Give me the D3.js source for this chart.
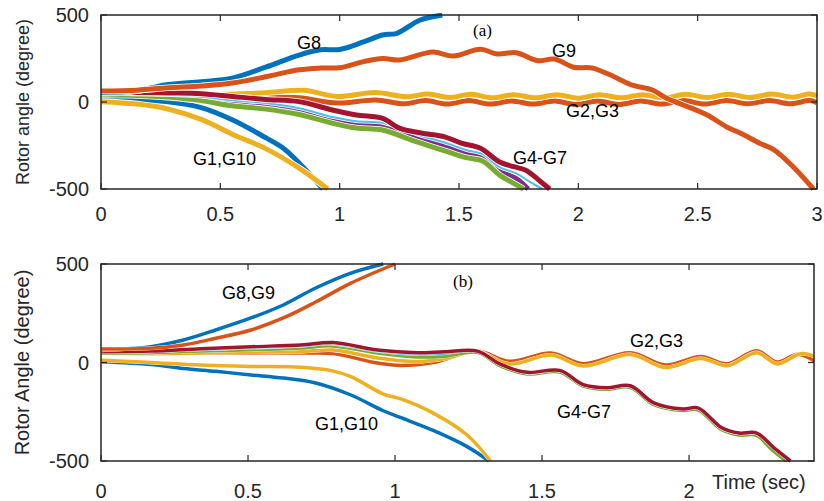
<!DOCTYPE html>
<html>
<head>
<meta charset="utf-8">
<script src="https://cdn.jsdelivr.net/npm/d3@7"></script>
<style>
  body { margin: 0; background: #fff; }
  text { font-family: "Liberation Sans", Arial, sans-serif; fill: #000; }
</style>
</head>
<body>
<div id="chart"></div>
<script>
// generator colours (MATLAB default order G1..G10)
var genColors = ["#0072BD", "#D95319", "#EDB120", "#7E2F8E", "#77AC30",
                 "#4DBEEE", "#A2142F", "#0072BD", "#D95319", "#EDB120"];
var genNames = ["G1", "G2", "G3", "G4", "G5", "G6", "G7", "G8", "G9", "G10"];

var yTicks = [-500, 0, 500];
var xTicksA = [0, 0.5, 1, 1.5, 2, 2.5, 3];
var xTicksB = [0, 0.5, 1, 1.5, 2];

// ---- panel (a): [time (s), rotor angle (deg)]
var a_G1 = [[0,12],[0.15,10],[0.28,2],[0.42,-32],[0.55,-102],[0.69,-205],[0.76,-262],[0.83,-350],[0.93,-500]];
var a_G2 = [[0,60],[0.15,56],[0.28,50],[0.42,42],[0.55,36],[0.69,30],[0.83,24],[0.99,-6],[1.15,12],[1.27,-10],
            [1.36,8],[1.45,-12],[1.54,8],[1.63,-12],[1.72,6],[1.81,-12],[1.90,6],[1.99,-14],[2.08,6],[2.17,-14],
            [2.26,6],[2.35,-12],[2.44,8],[2.53,-12],[2.62,8],[2.71,-10],[2.80,8],[2.89,-10],[2.97,8],[3.0,-5]];
var a_G3 = [[0,50],[0.15,50],[0.28,45],[0.42,40],[0.55,46],[0.69,53],[0.85,67],[0.99,32],[1.15,55],[1.28,30],
            [1.37,46],[1.46,26],[1.55,44],[1.64,24],[1.73,42],[1.82,24],[1.91,42],[2.00,22],[2.09,42],[2.18,24],
            [2.27,42],[2.36,24],[2.45,44],[2.54,26],[2.63,44],[2.72,26],[2.81,46],[2.90,28],[2.97,46],[3.0,36]];
var a_G4 = [[0,46],[0.15,45],[0.28,38],[0.42,20],[0.55,-5],[0.69,-22],[0.83,-50],[0.97,-100],[1.07,-125],[1.18,-136],
            [1.32,-205],[1.46,-262],[1.53,-295],[1.60,-316],[1.67,-395],[1.74,-440],[1.79,-500]];
var a_G5 = [[0,40],[0.15,38],[0.28,28],[0.42,8],[0.55,-22],[0.69,-41],[0.83,-72],[0.97,-122],[1.07,-150],[1.18,-161],
            [1.32,-228],[1.46,-290],[1.53,-320],[1.60,-340],[1.67,-420],[1.72,-460],[1.77,-500]];
var a_G6 = [[0,44],[0.15,44],[0.28,40],[0.42,30],[0.55,10],[0.69,-6],[0.83,-36],[0.97,-86],[1.07,-110],[1.18,-120],
            [1.32,-185],[1.46,-242],[1.53,-276],[1.60,-300],[1.67,-375],[1.74,-410],[1.80,-462],[1.85,-500]];
var a_G7 = [[0,52],[0.15,55],[0.28,52],[0.42,48],[0.55,32],[0.69,15],[0.83,2],[0.97,-46],[1.07,-75],[1.18,-94],
            [1.25,-150],[1.34,-178],[1.44,-200],[1.51,-237],[1.59,-266],[1.67,-345],[1.73,-372],[1.78,-392],[1.84,-455],[1.88,-500]];
var a_G8 = [[0,55],[0.15,65],[0.28,100],[0.42,117],[0.55,137],[0.69,200],[0.83,270],[0.92,300],[1.0,302],[1.1,345],
            [1.18,385],[1.24,395],[1.335,470],[1.43,500]];
var a_G9 = [[0,63],[0.15,68],[0.28,82],[0.42,92],[0.55,109],[0.69,145],[0.83,185],[0.92,195],[1.0,197],[1.1,232],
            [1.18,250],[1.25,241],[1.39,287],[1.475,264],[1.59,303],[1.66,276],[1.74,283],[1.83,237],[1.90,247],[1.98,200],
            [2.06,195],[2.15,145],[2.23,95],[2.31,69],[2.37,21],[2.46,-28],[2.54,-75],[2.62,-142],[2.68,-180],[2.76,-237],
            [2.82,-275],[2.90,-372],[2.985,-500]];
var a_G10 = [[0,2],[0.15,-12],[0.28,-40],[0.42,-100],[0.55,-185],[0.69,-268],[0.83,-380],[0.95,-500]];

// ---- panel (b)
var b_G1 = [[0,4],[0.17,-10],[0.28,-30],[0.39,-45],[0.51,-63],[0.62,-79],[0.73,-104],[0.85,-165],[0.96,-245],
            [1.02,-280],[1.13,-345],[1.245,-427],[1.32,-500]];
var b_G2 = [[0,62],[0.17,52],[0.34,47],[0.51,48],[0.68,48],[0.79,45],[0.94,-3],[1.02,-15],[1.13,0],[1.28,58],
            [1.39,6],[1.53,48],[1.64,-6],[1.80,50],[1.92,-13],[2.04,30],[2.13,-6],[2.23,60],[2.30,2],[2.37,42],[2.43,5]];
var b_G3 = [[0,48],[0.17,45],[0.34,48],[0.51,52],[0.68,55],[0.79,63],[0.94,23],[1.075,5],[1.17,20],[1.28,55],
            [1.39,-8],[1.53,38],[1.64,-18],[1.80,40],[1.92,-25],[2.04,20],[2.13,-16],[2.23,50],[2.30,-7],[2.38,45],[2.43,30]];
var b_G4 = [[0,50],[0.17,52],[0.34,60],[0.51,68],[0.68,78],[0.79,88],[0.94,52],[1.075,33],[1.17,38],[1.28,55],
            [1.36,-16],[1.45,-56],[1.56,-46],[1.64,-118],[1.72,-134],[1.80,-124],[1.88,-212],[1.98,-242],[2.03,-238],
            [2.11,-338],[2.17,-365],[2.23,-367],[2.29,-440],[2.335,-500]];
var b_G5 = [[0,48],[0.17,50],[0.34,58],[0.51,65],[0.68,74],[0.79,84],[0.94,48],[1.075,28],[1.17,32],[1.28,52],
            [1.36,-18],[1.45,-58],[1.56,-48],[1.64,-120],[1.72,-136],[1.80,-126],[1.88,-214],[1.98,-244],[2.03,-240],
            [2.11,-340],[2.17,-368],[2.23,-370],[2.28,-440],[2.33,-500]];
var b_G6 = [[0,52],[0.17,54],[0.34,64],[0.51,72],[0.68,82],[0.79,92],[0.94,56],[1.075,40],[1.17,45],[1.28,56],
            [1.36,-14],[1.45,-54],[1.56,-44],[1.64,-116],[1.72,-132],[1.80,-122],[1.88,-210],[1.98,-240],[2.03,-235],
            [2.11,-335],[2.17,-362],[2.23,-363],[2.29,-438],[2.34,-500]];
var b_G7 = [[0,55],[0.17,58],[0.34,70],[0.51,80],[0.68,89],[0.79,101],[0.94,63],[1.075,50],[1.17,55],[1.28,58],
            [1.36,-10],[1.45,-50],[1.56,-40],[1.64,-112],[1.72,-128],[1.80,-118],[1.88,-205],[1.98,-236],[2.03,-230],
            [2.11,-330],[2.17,-358],[2.23,-358],[2.29,-435],[2.345,-500]];
var b_G8 = [[0,63],[0.17,80],[0.28,114],[0.39,165],[0.51,226],[0.62,292],[0.73,378],[0.85,454],[0.96,500]];
var b_G9 = [[0,68],[0.17,72],[0.28,89],[0.39,123],[0.51,165],[0.62,226],[0.73,307],[0.85,403],[1.0,500]];
var b_G10 = [[0,12],[0.17,0],[0.34,-13],[0.51,-20],[0.68,-24],[0.78,-40],[0.85,-72],[0.96,-160],[1.02,-185],
             [1.13,-257],[1.245,-368],[1.325,-500]];

var seriesA = [a_G1, a_G2, a_G3, a_G4, a_G5, a_G6, a_G7, a_G8, a_G9, a_G10];
var seriesB = [b_G1, b_G2, b_G3, b_G4, b_G5, b_G6, b_G7, b_G8, b_G9, b_G10];

var width = 824, height = 501;

var svg = d3.select("#chart")
    .append("svg")
    .attr("width", width)
    .attr("height", height);

function drawPanel(p) {
    var x = d3.scaleLinear().domain(p.xDomain).range([p.left, p.right]);
    var y = d3.scaleLinear().domain([-500, 500]).range([p.bottom, p.top]);

    var g = svg.append("g");

    g.append("clipPath").attr("id", "clip" + p.id)
        .append("rect")
        .attr("x", p.left).attr("y", p.top - 2)
        .attr("width", p.right - p.left).attr("height", p.bottom - p.top + 4);

    var line = d3.line()
        .x(function(d) { return x(d[0]); })
        .y(function(d) { return y(d[1]); })
        .curve(d3.curveCatmullRom.alpha(0.5));

    var lines = g.append("g").attr("clip-path", "url(#clip" + p.id + ")");
    p.series.forEach(function(s, i) {
        var w = (i == 5) ? p.thin : p.lineWidth;
        if (p.halo > 0) {
            lines.append("path")
                .datum(s)
                .attr("fill", "none")
                .attr("stroke", "#fff")
                .attr("stroke-width", w + p.halo)
                .attr("d", line);
        }
        lines.append("path")
            .datum(s)
            .attr("fill", "none")
            .attr("stroke", genColors[i])
            .attr("stroke-width", w)
            .attr("stroke-linejoin", "round")
            .attr("d", line);
    });

    // box with inward ticks
    g.append("rect")
        .attr("x", p.left).attr("y", p.top)
        .attr("width", p.right - p.left).attr("height", p.bottom - p.top)
        .attr("fill", "none").attr("stroke", "#262626").attr("stroke-width", 1.5);

    p.xTicks.forEach(function(t) {
        g.append("line").attr("x1", x(t)).attr("x2", x(t)).attr("y1", p.bottom).attr("y2", p.bottom - 6)
            .attr("stroke", "#262626").attr("stroke-width", 1.2);
        g.append("line").attr("x1", x(t)).attr("x2", x(t)).attr("y1", p.top).attr("y2", p.top + 6)
            .attr("stroke", "#262626").attr("stroke-width", 1.2);
        g.append("text")
            .attr("x", x(t)).attr("y", p.xLabelY)
            .attr("text-anchor", "middle")
            .style("font-size", "20px")
            .style("fill", "#262626")
            .text(t);
    });
    yTicks.forEach(function(t) {
        g.append("line").attr("x1", p.left).attr("x2", p.left + 6).attr("y1", y(t)).attr("y2", y(t))
            .attr("stroke", "#262626").attr("stroke-width", 1.2);
        g.append("line").attr("x1", p.right).attr("x2", p.right - 6).attr("y1", y(t)).attr("y2", y(t))
            .attr("stroke", "#262626").attr("stroke-width", 1.2);
        g.append("text")
            .attr("x", p.left - 12).attr("y", y(t) + 7)
            .attr("text-anchor", "end")
            .style("font-size", "20px")
            .style("fill", "#262626")
            .text(t);
    });

    g.append("text")
        .attr("transform", "translate(" + 29 + "," + ((p.top + p.bottom) / 2) + ") rotate(-90)")
        .attr("text-anchor", "middle")
        .style("font-size", p.titleSize + "px")
        .style("fill", "#262626")
        .text(p.yTitle);

    g.append("text")
        .attr("x", p.tag[0]).attr("y", p.tag[1])
        .style("font-family", "'Liberation Serif', 'Times New Roman', serif")
        .style("font-size", "17px")
        .text(p.tag[2]);

    p.labels.forEach(function(l) {
        g.append("text")
            .attr("x", l[0]).attr("y", l[1])
            .style("font-size", "18px")
            .text(l[2]);
    });
}

drawPanel({
    id: "a", left: 101, right: 817, top: 15, bottom: 189,
    xDomain: [0, 3], xTicks: xTicksA, xLabelY: 221,
    series: seriesA, lineWidth: 5, thin: 2, halo: 1.6,
    yTitle: "Rotor angle (degree)", titleSize: 18,
    tag: [473, 36, "(a)"],
    labels: [[297, 49, "G8"], [552, 57, "G9"], [566, 117, "G2,G3"], [513, 164, "G4-G7"], [193, 165, "G1,G10"]]
});

drawPanel({
    id: "b", left: 101, right: 814, top: 264, bottom: 461,
    xDomain: [0, 2.425], xTicks: xTicksB, xLabelY: 498,
    series: seriesB, lineWidth: 3.5, thin: 2, halo: 0.6,
    yTitle: "Rotor Angle (degree)", titleSize: 20,
    tag: [453, 287, "(b)"],
    labels: [[222, 299, "G8,G9"], [315, 430, "G1,G10"], [630, 347, "G2,G3"], [557, 418, "G4-G7"]]
});

svg.append("text")
    .attr("x", 712).attr("y", 489)
    .style("font-size", "20px")
    .style("fill", "#262626")
    .text("Time (sec)");
</script>
</body>
</html>
